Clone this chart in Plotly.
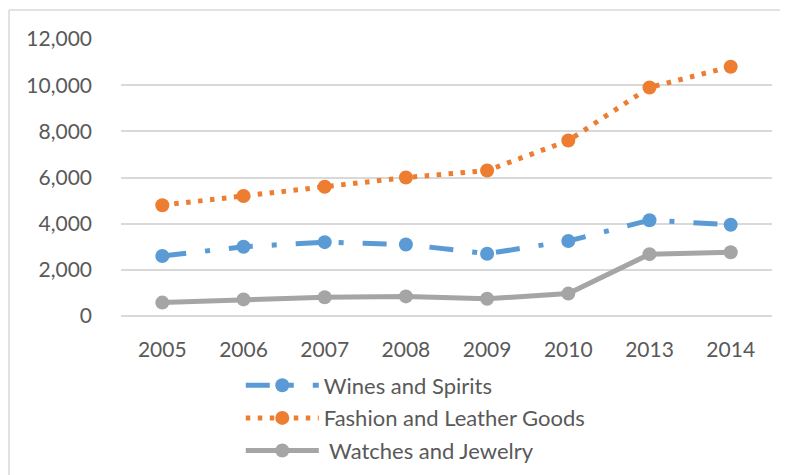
import plotly.graph_objects as go

years = ["2005", "2006", "2007", "2008", "2009", "2010", "2013", "2014"]
wines = [2600, 3000, 3200, 3100, 2700, 3250, 4150, 3950]
fashion = [4800, 5200, 5600, 6000, 6300, 7600, 9900, 10800]
watches = [580, 720, 810, 850, 750, 970, 2680, 2760]
series_names = ["Wines and Spirits", "Fashion and Leather Goods", "\u00a0Watches and Jewelry"]
y_ticks = [0, 2000, 4000, 6000, 8000, 10000, 12000]

BLUE = "#5B9BD5"
ORANGE = "#ED7D31"
GRAY = "#A5A5A5"
TEXT = "#595959"
GRID = "#D9D9D9"
FONT = "Lato, Carlito, Calibri, sans-serif"

fig = go.Figure()
fig.add_trace(go.Scatter(
    x=years, y=wines, name=series_names[0], mode="lines+markers",
    line=dict(color=BLUE, width=5, dash="24px,19px,5px,19px"),
    marker=dict(color=BLUE, size=14), legendgroup="a",
))
fig.add_trace(go.Scatter(
    x=years, y=fashion, name=series_names[1], mode="lines+markers",
    line=dict(color=ORANGE, width=5, dash="4.5px,7.5px"),
    marker=dict(color=ORANGE, size=14), legendgroup="b",
))
fig.add_trace(go.Scatter(
    x=years, y=watches, name=series_names[2], mode="lines+markers",
    line=dict(color=GRAY, width=5),
    marker=dict(color=GRAY, size=14), legendgroup="c",
))

# The page body adds an 8px offset, so the figure is sized 780x467.
fig.update_layout(
    width=780, height=467,
    margin=dict(l=113, r=16, t=31, b=159, autoexpand=False),
    paper_bgcolor="white", plot_bgcolor="white",
    font=dict(family=FONT, size=21, color=TEXT),
    showlegend=True,
    legend=dict(
        x=0.184, y=-0.175, xanchor="left", yanchor="top",
        orientation="v", tracegroupgap=1, itemwidth=73,
        font=dict(family=FONT, size=22, color=TEXT),
        bgcolor="rgba(0,0,0,0)",
    ),
    xaxis=dict(
        type="category", categoryorder="array", categoryarray=years,
        showgrid=False, zeroline=False, showline=False, automargin=False,
        ticks="", ticklabelstandoff=19,
        tickfont=dict(family=FONT, size=21, color=TEXT),
    ),
    yaxis=dict(
        range=[0, 12000], tickvals=y_ticks, tickformat=",d", automargin=False,
        showgrid=True, gridcolor=GRID, gridwidth=1.5,
        zeroline=True, zerolinecolor=GRID, zerolinewidth=2,
        showline=False, ticks="", ticklabelstandoff=28,
        tickfont=dict(family=FONT, size=21, color=TEXT),
    ),
)

# chart-area border (only top and left edges are visible in the reference)
fig.add_shape(type="line", xref="paper", yref="paper",
              x0=-0.172, x1=1.1, y0=1.105, y1=1.105,
              line=dict(color=GRID, width=1.5))
fig.add_shape(type="line", xref="paper", yref="paper",
              x0=-0.172, x1=-0.172, y0=-1.0, y1=1.105,
              line=dict(color=GRID, width=1.5))

fig.write_html("out.html")
